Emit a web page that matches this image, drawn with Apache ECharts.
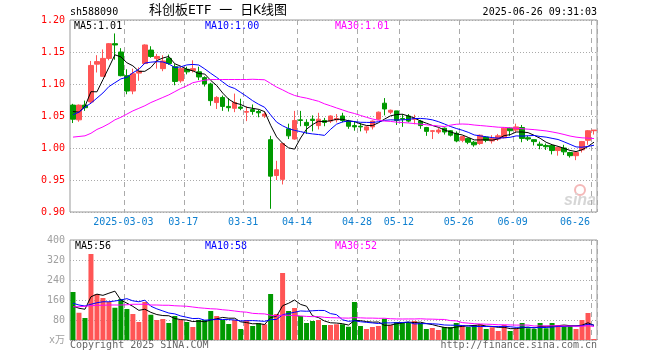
<!DOCTYPE html>
<html><head><meta charset="utf-8">
<script src="https://cdn.jsdelivr.net/npm/echarts@6/dist/echarts.min.js"></script>
<style>html,body{margin:0;padding:0;background:#fff}#c{width:660px;height:360px}</style>
</head><body><div id="c"></div>
<script>
const dates = [
'2025-02-18','2025-02-19','2025-02-20','2025-02-21','2025-02-24','2025-02-25','2025-02-26','2025-02-27','2025-02-28',
'2025-03-03','2025-03-04','2025-03-05','2025-03-06','2025-03-07',
'2025-03-10','2025-03-11','2025-03-12','2025-03-13','2025-03-14',
'2025-03-17','2025-03-18','2025-03-19','2025-03-20','2025-03-21',
'2025-03-24','2025-03-25','2025-03-26','2025-03-27','2025-03-28',
'2025-03-31','2025-04-01','2025-04-02','2025-04-03',
'2025-04-07','2025-04-08','2025-04-09','2025-04-10','2025-04-11',
'2025-04-14','2025-04-15','2025-04-16','2025-04-17','2025-04-18',
'2025-04-21','2025-04-22','2025-04-23','2025-04-24','2025-04-25',
'2025-04-28','2025-04-29','2025-04-30',
'2025-05-06','2025-05-07','2025-05-08','2025-05-09',
'2025-05-12','2025-05-13','2025-05-14','2025-05-15','2025-05-16',
'2025-05-19','2025-05-20','2025-05-21','2025-05-22','2025-05-23',
'2025-05-26','2025-05-27','2025-05-28','2025-05-29','2025-05-30',
'2025-06-03','2025-06-04','2025-06-05','2025-06-06',
'2025-06-09','2025-06-10','2025-06-11','2025-06-12','2025-06-13',
'2025-06-16','2025-06-17','2025-06-18','2025-06-19','2025-06-20',
'2025-06-23','2025-06-24','2025-06-25','2025-06-26'];

const opens = [1.067,1.044,1.067,1.072,1.131,1.112,1.140,1.163,1.150,1.113,
1.089,1.117,1.132,1.153,1.140,1.124,1.140,1.127,1.105,1.123,
1.121,1.119,1.110,1.100,1.071,1.079,1.065,1.062,1.064,1.056,
1.060,1.057,1.050,1.013,0.957,0.951,1.030,1.014,1.044,1.040,
1.045,1.035,1.043,1.042,1.044,1.050,1.042,1.035,1.034,1.028,
1.033,1.045,1.070,1.056,1.058,1.046,1.050,1.045,1.042,1.032,
1.026,1.025,1.031,1.027,1.023,1.012,1.015,1.009,1.007,1.017,
1.011,1.014,1.016,1.031,1.028,1.032,1.016,1.013,1.006,1.004,
1.004,0.996,1.000,0.993,0.988,0.997,1.012,1.027];
const closes = [1.045,1.067,1.063,1.129,1.135,1.140,1.163,1.161,1.113,1.089,
1.116,1.120,1.161,1.143,1.143,1.136,1.132,1.104,1.124,1.119,
1.124,1.111,1.100,1.074,1.079,1.065,1.063,1.071,1.062,1.057,
1.057,1.055,1.053,0.956,0.966,1.007,1.019,1.043,1.043,1.035,
1.043,1.045,1.040,1.050,1.046,1.043,1.034,1.033,1.033,1.033,
1.042,1.056,1.061,1.059,1.043,1.045,1.042,1.046,1.035,1.026,
1.027,1.028,1.025,1.020,1.011,1.018,1.009,1.005,1.020,1.012,
1.015,1.019,1.031,1.027,1.033,1.015,1.014,1.010,1.004,1.002,
0.996,1.001,0.994,0.988,0.993,1.010,1.027,1.028];
const lows = [1.039,1.041,1.058,1.069,1.118,1.112,1.137,1.138,1.112,1.084,
1.084,1.105,1.131,1.141,1.124,1.120,1.130,1.098,1.102,1.115,
1.118,1.106,1.096,1.066,1.061,1.058,1.057,1.056,1.059,1.042,
1.052,1.048,1.047,0.905,0.950,0.943,1.014,1.013,1.034,1.022,
1.026,1.029,1.034,1.039,1.040,1.040,1.030,1.027,1.026,1.023,
1.029,1.044,1.051,1.053,1.036,1.033,1.040,1.037,1.030,1.019,
1.014,1.022,1.021,1.018,1.009,1.009,1.006,1.002,1.005,1.009,
1.007,1.011,1.015,1.019,1.025,1.009,1.011,1.004,0.998,0.997,
0.990,0.988,0.989,0.985,0.981,0.993,1.005,1.021];
const highs = [1.069,1.068,1.074,1.136,1.145,1.154,1.164,1.179,1.156,1.123,
1.124,1.126,1.162,1.159,1.147,1.145,1.146,1.131,1.127,1.127,
1.137,1.127,1.112,1.102,1.081,1.082,1.078,1.085,1.077,1.065,
1.068,1.060,1.057,1.019,0.980,1.008,1.038,1.058,1.058,1.045,
1.051,1.055,1.047,1.051,1.053,1.055,1.044,1.042,1.039,1.035,
1.043,1.057,1.078,1.060,1.058,1.053,1.053,1.052,1.044,1.033,
1.028,1.031,1.032,1.028,1.026,1.019,1.016,1.011,1.021,1.018,
1.020,1.022,1.032,1.032,1.038,1.036,1.019,1.013,1.010,1.007,
1.006,1.002,1.005,0.994,0.994,1.011,1.028,1.028];
const volumes = [192,109,88,344,184,168,152,129,164,124,
104,72,152,101,80,84,68,96,80,72,
52,80,80,116,96,80,64,80,44,80,
56,67,63,184,104,268,116,128,96,68,
76,80,60,60,63,63,53,152,56,44,
52,56,85,60,72,69,72,76,68,44,
48,40,52,52,68,60,52,60,63,44,
51,36,60,36,44,68,47,44,68,47,
68,60,56,56,44,80,108,4];

const ma5Head = [1.057,1.056,1.065,1.088];
const ma10Head = [1.052,1.056,1.064,1.070,1.078,1.086,1.096,1.102,1.108];
const ma30Head = [1.017,1.018,1.019,1.023,1.029,1.033,1.038,1.044,1.048,1.053,
1.058,1.062,1.066,1.071,1.075,1.079,1.083,1.088,1.093,1.097,
1.102,1.104,1.106,1.107,1.107,1.107,1.107,1.107,1.107];
const vma5Head = [136,127,123,173];
const vma10Head = [147,140,136,143,149,153,153,156,160];
const vma30Head = [133,133,135,137,139,139,140,140,140,141,
143,143,143,140,140,139,139,137,136,135,
132,129,127,125,124,121,119,116,113];

const tickDates = ['2025-03-03','2025-03-17','2025-03-31','2025-04-14','2025-04-28','2025-05-12','2025-05-26','2025-06-09','2025-06-26'];
const tickLabels = ['2025-03-03','03-17','03-31','04-14','04-28','05-12','05-26','06-09','06-26'];

const priceTicks = {min:0.90, max:1.20, interval:0.05};
const volTicks = {min:0, max:400, interval:80};

const legendPrice = ['MA5:1.01','MA10:1.00','MA30:1.01'];
const legendVol = ['MA5:56','MA10:58','MA30:52'];

function movingAvg(vals, n, head, dec) {
  return vals.map((v, i) => {
    if (i < head.length) return head[i];
    let s = 0;
    for (let j = i - n + 1; j <= i; j++) s += vals[j];
    return +(s / n).toFixed(dec);
  });
}

const RED = '#ff5555', GREEN = '#009900';
const MONO = "'DejaVu Sans Mono','Liberation Mono',monospace";
const tickIdx = new Map(tickDates.map((d, i) => [dates.indexOf(d), tickLabels[i]]));
const lastTick = dates.indexOf(tickDates[tickDates.length - 1]);

const kData = dates.map((d, i) => [opens[i], closes[i], lows[i], highs[i]]);
const volData = volumes.map((v, i) => ({value: v, itemStyle: {color: closes[i] >= opens[i] ? RED : GREEN}}));

const chart = echarts.init(document.getElementById('c'), null, {renderer: 'canvas'});
const splitX = {show: true, interval: (i) => tickIdx.has(i), lineStyle: {color: '#aaaaaa', type: [5, 4], width: 1}};
const lineCommon = {type: 'line', showSymbol: false, symbol: 'none', animation: false, lineStyle: {width: 1}};

chart.setOption({
  animation: false,
  backgroundColor: '#ffffff',
  grid: [
    {left: 70, right: 63, top: 20, height: 192, show: true, borderColor: '#999999', borderWidth: 1, backgroundColor: 'transparent'},
    {left: 70, right: 63, top: 240, height: 100, show: true, borderColor: '#999999', borderWidth: 1, backgroundColor: 'transparent'}
  ],
  xAxis: [
    {type: 'category', gridIndex: 0, data: dates, boundaryGap: true,
     axisLine: {show: false}, axisTick: {show: false}, splitLine: splitX,
     axisLabel: {show: true, interval: (i) => tickIdx.has(i), margin: 5,
       formatter: (v, i) => (i === lastTick ? '{r|' : '{n|') + tickIdx.get(i) + '}',
       rich: {
         n: {color: '#1080d0', fontFamily: MONO, fontSize: 10, padding: [0, 7, 0, 0]},
         r: {color: '#1080d0', fontFamily: MONO, fontSize: 10, padding: [0, 38, 0, 0]}
       }}},
    {type: 'category', gridIndex: 1, data: dates, boundaryGap: true,
     axisLine: {show: false}, axisTick: {show: false}, axisLabel: {show: false}, splitLine: splitX}
  ],
  yAxis: [
    {type: 'value', gridIndex: 0, min: priceTicks.min, max: priceTicks.max, interval: priceTicks.interval,
     axisLine: {show: false}, axisTick: {show: false},
     splitLine: {show: true, lineStyle: {color: '#aaaaaa', type: [1, 2], width: 1}},
     axisLabel: {color: '#ff0000', fontFamily: MONO, fontSize: 10, margin: 5, formatter: (v) => v.toFixed(2)}},
    {type: 'value', gridIndex: 1, min: volTicks.min, max: volTicks.max, interval: volTicks.interval,
     axisLine: {show: false}, axisTick: {show: false},
     splitLine: {show: true, lineStyle: {color: '#aaaaaa', type: [1, 2], width: 1}},
     axisLabel: {color: '#a0a0a0', fontFamily: MONO + ",'Noto Sans CJK SC'", fontSize: 10, margin: 5,
       formatter: (v) => v === 0 ? 'x万' : String(v)}}
  ],
  series: [
    {type: 'candlestick', xAxisIndex: 0, yAxisIndex: 0, data: kData, barWidth: 5,
     itemStyle: {color: RED, color0: GREEN, borderColor: RED, borderColor0: GREEN, borderWidth: 1}},
    Object.assign({}, lineCommon, {xAxisIndex: 0, yAxisIndex: 0, data: movingAvg(closes, 5, ma5Head, 4), lineStyle: {width: 1, color: '#000000'}, z: 3}),
    Object.assign({}, lineCommon, {xAxisIndex: 0, yAxisIndex: 0, data: movingAvg(closes, 10, ma10Head, 4), lineStyle: {width: 1, color: '#0000ff'}, z: 3}),
    Object.assign({}, lineCommon, {xAxisIndex: 0, yAxisIndex: 0, data: movingAvg(closes, 30, ma30Head, 4), lineStyle: {width: 1, color: '#ff00ff'}, z: 3}),
    {type: 'bar', xAxisIndex: 1, yAxisIndex: 1, data: volData, barWidth: 5},
    Object.assign({}, lineCommon, {xAxisIndex: 1, yAxisIndex: 1, data: movingAvg(volumes, 5, vma5Head, 1), lineStyle: {width: 1, color: '#000000'}, z: 3}),
    Object.assign({}, lineCommon, {xAxisIndex: 1, yAxisIndex: 1, data: movingAvg(volumes, 10, vma10Head, 1), lineStyle: {width: 1, color: '#0000ff'}, z: 3}),
    Object.assign({}, lineCommon, {xAxisIndex: 1, yAxisIndex: 1, data: movingAvg(volumes, 30, vma30Head, 1), lineStyle: {width: 1, color: '#ff00ff'}, z: 3})
  ],
  graphic: [
    {type: 'text', left: 70, top: 7, style: {text: 'sh588090', fill: '#000', font: '10px ' + MONO}},
    {type: 'text', left: 149, top: 4, style: {text: '科创板ETF 一 日K线图', fill: '#000', font: "13px 'DejaVu Sans Mono','Noto Sans CJK SC'"}},
    {type: 'text', right: 63, top: 7, style: {text: '2025-06-26 09:31:03', fill: '#000', font: '10px ' + MONO}},
    {type: 'text', left: 74, top: 21, style: {text: legendPrice[0], fill: '#000000', font: '10px ' + MONO}},
    {type: 'text', left: 205, top: 21, style: {text: legendPrice[1], fill: '#0000ff', font: '10px ' + MONO}},
    {type: 'text', left: 335, top: 21, style: {text: legendPrice[2], fill: '#ff00ff', font: '10px ' + MONO}},
    {type: 'text', left: 75, top: 241, style: {text: legendVol[0], fill: '#000000', font: '10px ' + MONO}},
    {type: 'text', left: 205, top: 241, style: {text: legendVol[1], fill: '#0000ff', font: '10px ' + MONO}},
    {type: 'text', left: 335, top: 241, style: {text: legendVol[2], fill: '#ff00ff', font: '10px ' + MONO}},
    {type: 'text', left: 70, top: 340, style: {text: 'Copyright 2025 SINA.COM', fill: '#666666', font: '10px ' + MONO}},
    {type: 'text', right: 63, top: 340, style: {text: 'http://finance.sina.com.cn', fill: '#666666', font: '10px ' + MONO}},
    {type: 'circle', shape: {cx: 580, cy: 190, r: 5}, style: {fill: 'none', stroke: '#f4b8b8', lineWidth: 2}, silent: true},
    {type: 'text', left: 564, top: 193, style: {text: 'sina', fill: '#d6d6d6', font: 'italic bold 16px Arial, sans-serif'}, silent: true}
  ]
});
</script></body></html>
